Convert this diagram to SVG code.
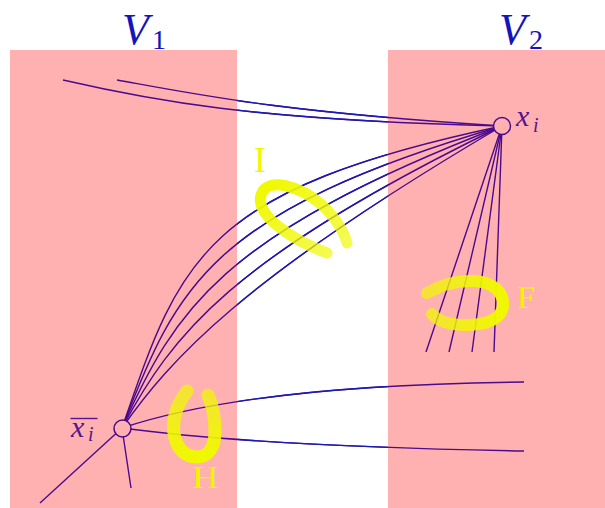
<svg xmlns="http://www.w3.org/2000/svg" xmlns:xlink="http://www.w3.org/1999/xlink" width="605" height="508" viewBox="0 0 605 508">
<style>
.region{fill:#ffb1b1}
.vlab{font-family:"Liberation Serif",serif;fill:#1414b8}
.mlab{font-family:"Liberation Serif",serif;fill:#55158c}
.ylab{font-family:"Liberation Serif",serif;fill:#f0f500}
.node{fill:#ffb1b1;stroke:#4c0a8c;stroke-width:1.5}
.blob{fill:none;stroke-linecap:round}
</style>
<defs>
<clipPath id="gap"><rect x="237" y="0" width="151" height="508"/></clipPath>
<linearGradient id="gI" x1="0" y1="0" x2="1" y2="1">
<stop offset="0" stop-color="#f0f800" stop-opacity="1"/>
<stop offset="1" stop-color="#f0f800" stop-opacity="0.65"/>
</linearGradient>
<linearGradient id="gF" x1="0" y1="0" x2="1" y2="0">
<stop offset="0" stop-color="#f0f800" stop-opacity="0.7"/>
<stop offset="1" stop-color="#f0f800" stop-opacity="1"/>
</linearGradient>
<linearGradient id="gH" x1="0" y1="0" x2="0" y2="1">
<stop offset="0" stop-color="#f0f800" stop-opacity="0.7"/>
<stop offset="1" stop-color="#f0f800" stop-opacity="1"/>
</linearGradient>
</defs>
<rect width="605" height="508" fill="#ffffff"/>
<g id="V1">
<rect class="region" x="10" y="50" width="227" height="458"/>
<text class="vlab" x="122" y="44" font-size="44" font-style="italic">V</text>
<text class="vlab" x="152" y="49" font-size="28">1</text>
</g>
<g id="V2">
<rect class="region" x="388" y="50" width="217" height="458"/>
<text class="vlab" x="499" y="44" font-size="44" font-style="italic">V</text>
<text class="vlab" x="529" y="49" font-size="28">2</text>
</g>
<g id="connectors" fill="none" stroke="#4c0a8c" stroke-width="1.4">
<g id="edges">
<path d="M63,80 C150,100 250,120 502,126"/>
<path d="M117,80 C200,95 280,112 502,126"/>
<path d="M122,428 C180,260 200,190 502,126"/>
<path d="M122,428 C177,285 210,212 502,126"/>
<path d="M122,428 C175,310 220,235 502,126"/>
<path d="M122,428 C172,335 230,258 502,126"/>
<path d="M122,428 C170,360 240,280 502,126"/>
<path d="M502,126 L426,352"/>
<path d="M502,126 L449,352"/>
<path d="M502,126 L472,352"/>
<path d="M502,126 L494,352"/>
<path d="M122,428 Q250,385 524,382"/>
<path d="M122,428 Q255,446 524,451"/>
<path d="M122,428 L40,503"/>
<path d="M122,428 L131,488"/>
</g>
<use xlink:href="#edges" href="#edges" stroke="#1a1ab5" clip-path="url(#gap)"/>
</g>
<g id="xi">
<circle class="node" cx="502" cy="126" r="8.5"/>
<text class="mlab" x="516" y="126" font-size="30" font-style="italic">x</text>
<text class="mlab" x="533" y="132" font-size="20" font-style="italic">i</text>
</g>
<g id="xbar_i">
<circle class="node" cx="122.5" cy="428.5" r="8.5"/>
<line x1="70.5" y1="418.5" x2="97.5" y2="418.5" stroke="#55158c" stroke-width="1.4"/>
<text class="mlab" x="71" y="437" font-size="30" font-style="italic">x</text>
<text class="mlab" x="88" y="441" font-size="20" font-style="italic">i</text>
</g>
<g id="I">
<path class="blob" stroke="url(#gI)" stroke-width="11" d="M327,253 C292,240 255,215 261,195 C267,176 300,186 322,205 C338,220 345,235 347,243"/>
<text class="ylab" x="254" y="172" font-size="36">I</text>
</g>
<g id="F">
<path class="blob" stroke="url(#gF)" stroke-width="12" d="M427,293 C440,285 455,280 475,281 C495,283 504,293 503,306 C502,318 488,325 466,325 C448,325 437,320 432,314"/>
<text class="ylab" x="517" y="308" font-size="32">F</text>
</g>
<g id="H">
<path class="blob" stroke="url(#gH)" stroke-width="13" d="M187,391 C178,403 172,418 174,433 C176,448 185,457 197,457 C209,457 215,446 215,432 C215,418 212,404 208,395"/>
<text class="ylab" x="192" y="488" font-size="31" transform="translate(192,488) scale(1.18,1) translate(-192,-488)">H</text>
</g>
</svg>
